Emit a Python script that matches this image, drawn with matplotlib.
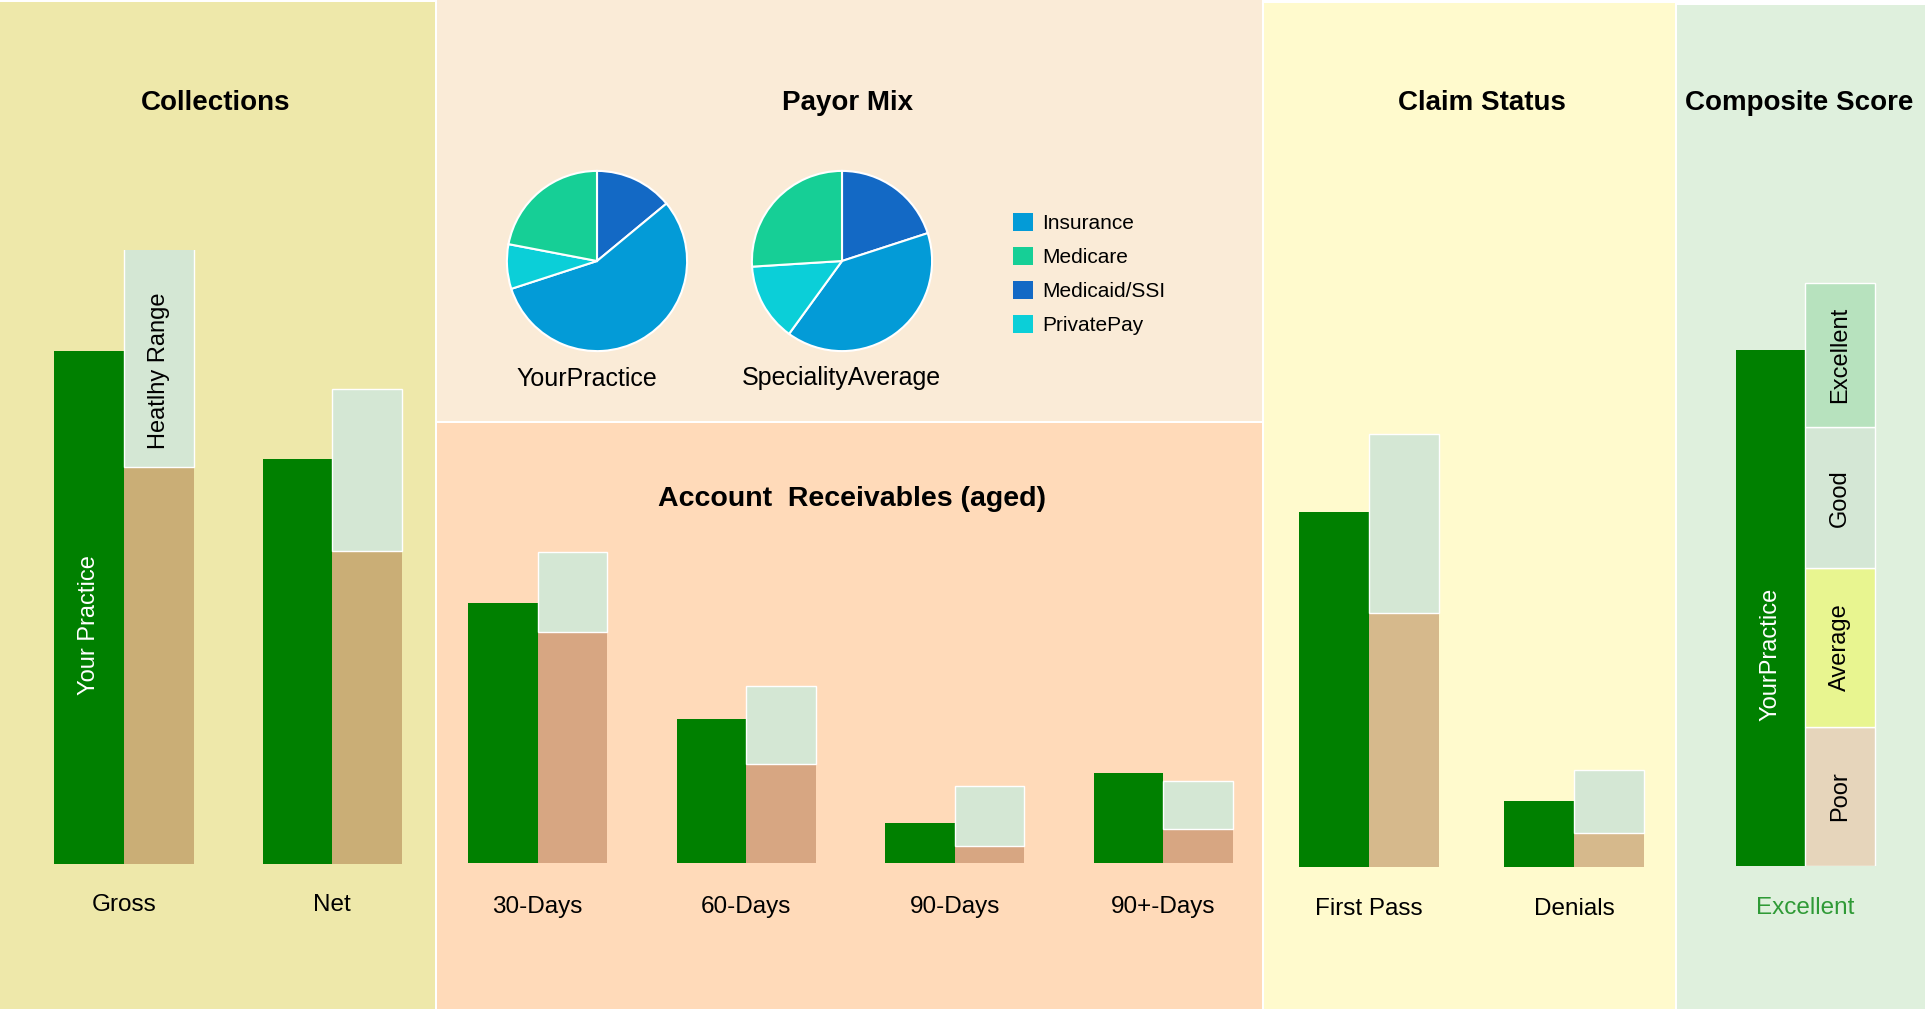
import matplotlib
matplotlib.use("Agg")
import matplotlib.pyplot as plt
from matplotlib.patches import Rectangle, Patch
import numpy as np

plt.rcParams['font.family'] = ['Liberation Sans', 'DejaVu Sans']

# ---------------- data ----------------
collections_categories = ['Gross', 'Net']
collections_practice = [83.5, 66.0]
collections_benchmark = [64.7, 51.0]
collections_range_top = [100.3, 77.4]

payor_labels = ['Insurance', 'Medicare', 'Medicaid/SSI', 'PrivatePay']
payor_your_practice = [56, 22, 14, 8]
payor_speciality_avg = [40, 26, 20, 14]
pie_titles = ['YourPractice', 'SpecialityAverage']

ar_categories = ['30-Days', '60-Days', '90-Days', '90+-Days']
ar_practice = [42.4, 23.4, 6.5, 14.6]
ar_benchmark = [37.6, 16.2, 2.7, 5.5]
ar_range_top = [50.6, 28.8, 12.5, 13.4]

claim_categories = ['First Pass', 'Denials']
claim_practice = [57.9, 10.8]
claim_benchmark = [41.4, 5.5]
claim_range_top = [70.5, 15.8]

composite_category = ['Excellent']
composite_practice = [84.0]
composite_levels = ['Poor', 'Average', 'Good', 'Excellent']
composite_level_sizes = [22.7, 25.8, 23.0, 23.4]

# ---------------- style ----------------
W, H = 1925, 1011
GREEN = '#008000'
LIGHT = '#d4e7d4'
pie_colors = ['#039bd7', '#16cf96', '#1369c5', '#0bcfd8']
level_colors = ['#e6d5bb', '#e8f590', '#d4e7d5', '#b7e2be']

fig = plt.figure(figsize=(W / 100, H / 100), dpi=100)
fig.patch.set_facecolor('white')


def px_rect(x0, y0, w, h):
    return [x0 / W, 1 - (y0 + h) / H, w / W, h / H]


def panel(x0, y0, x1, y1, color):
    r = Rectangle((x0 / W, 1 - y1 / H), (x1 - x0) / W, (y1 - y0) / H,
                  transform=fig.transFigure, facecolor=color, edgecolor='none',
                  zorder=-10)
    fig.add_artist(r)


panel(0, 2, 435, 1009, '#eee8aa')
panel(437, 0, 1262, 421, '#faebd7')
panel(437, 423, 1262, 1009, '#ffdab9')
panel(1264, 3, 1675, 1009, '#fffacd')
panel(1677, 5, 1925, 1009, '#dff0dd')

TITLE_FS = 20
fig.text(216 / W, 1 - 102.5 / H, 'Collections', ha='center', va='center',
         fontsize=TITLE_FS, fontweight='bold')
fig.text(847 / W, 1 - 102.5 / H, 'Payor Mix', ha='center', va='center',
         fontsize=TITLE_FS, fontweight='bold')
fig.text(852 / W, 1 - 499 / H, 'Account  Receivables (aged)', ha='center',
         va='center', fontsize=20.5, fontweight='bold')
fig.text(1482 / W, 1 - 102.5 / H, 'Claim Status', ha='center', va='center',
         fontsize=TITLE_FS, fontweight='bold')
fig.text(1799 / W, 1 - 103.5 / H, 'Composite Score', ha='center', va='center',
         fontsize=TITLE_FS, fontweight='bold')

UNIT = 6.139  # px per data unit
LABEL_FS = 17.5


def bar_axes(first_center, spacing, n, baseline, pad):
    left = first_center - spacing / 2
    top = baseline - 100 * UNIT
    ax = fig.add_axes(px_rect(left, top, spacing * n, 100 * UNIT))
    ax.set_xlim(-0.5, n - 0.5)
    ax.set_ylim(0, 100)
    ax.patch.set_alpha(0)
    for s in ax.spines.values():
        s.set_visible(False)
    ax.set_yticks([])
    ax.tick_params(axis='x', length=0, pad=pad, labelsize=LABEL_FS)
    return ax, 69.7 / spacing


def grouped(ax, bw, cats, practice, bench, top, tan):
    x = np.arange(len(cats))
    ax.bar(x - bw / 2, practice, bw, color=GREEN, linewidth=0)
    ax.bar(x + bw / 2, bench, bw, color=tan, linewidth=0)
    ax.bar(x + bw / 2, np.subtract(top, bench), bw, bottom=bench,
           color=LIGHT, edgecolor='white', linewidth=1)
    ax.set_xticks(x, cats)
    return x


# Collections
ax_c, bw = bar_axes(124, 208.3, 2, 864, 21.5)
xc = grouped(ax_c, bw, collections_categories, collections_practice,
             collections_benchmark, collections_range_top, '#caae76')
ax_c.text(xc[0] - bw / 2, 38.9, 'Your Practice', rotation=90, color='white',
          ha='center', va='center', fontsize=17)
ax_c.text(xc[0] + bw / 2, 80.3, 'Heatlhy Range', rotation=90, color='black',
          ha='center', va='center', fontsize=17)

# Account receivables
ax_ar, bw = bar_axes(537.7, 208.5, 4, 863, 24)
grouped(ax_ar, bw, ar_categories, ar_practice, ar_benchmark, ar_range_top,
        '#d7a682')

# Claim status
ax_cl, bw = bar_axes(1369, 205, 2, 867, 22)
grouped(ax_cl, bw, claim_categories, claim_practice, claim_benchmark,
        claim_range_top, '#d6b98c')

# Composite
ax_cs, bw = bar_axes(1805.4, 208, 1, 866, 22.5)
ax_cs.bar([-bw / 2], composite_practice, bw, color=GREEN, linewidth=0)
bottoms = np.concatenate([[0], np.cumsum(composite_level_sizes)[:-1]])
ax_cs.bar([bw / 2] * 4, composite_level_sizes, bw, bottom=bottoms,
          color=level_colors, edgecolor='white', linewidth=1)
for lvl, b, s in zip(composite_levels, bottoms, composite_level_sizes):
    ax_cs.text(bw / 2, b + s / 2, lvl, rotation=90, ha='center', va='center',
               fontsize=17, color='black')
ax_cs.text(-bw / 2, 34.4, 'YourPractice', rotation=90, ha='center',
           va='center', fontsize=17, color='white')
ax_cs.set_xticks([0], composite_category)
ax_cs.get_xticklabels()[0].set_color('#2f9a36')

# Payor mix pies
draw_order = [2, 0, 3, 1]  # clockwise from top
for (cx, cy), vals, ttl, (tx, ty) in zip(
        [(597, 261), (842, 261)],
        [payor_your_practice, payor_speciality_avg],
        pie_titles,
        [(587, 379), (841, 378)]):
    r = 91
    axp = fig.add_axes(px_rect(cx - r, cy - r, 2 * r, 2 * r))
    axp.pie([vals[i] for i in draw_order],
            colors=[pie_colors[i] for i in draw_order],
            startangle=90, counterclock=False,
            wedgeprops=dict(edgecolor='white', linewidth=1.5))
    axp.set_xlim(-1.01, 1.01)
    axp.set_ylim(-1.01, 1.01)
    fig.text(tx / W, 1 - ty / H, ttl, ha='center', va='center',
             fontsize=18)

handles = [Patch(facecolor=c, edgecolor='none') for c in pie_colors]
fig.legend(handles, payor_labels, loc='upper left',
           bbox_to_anchor=(1013 / W, 1 - 213 / H), frameon=False,
           fontsize=15, handlelength=0.96, handleheight=0.96,
           handletextpad=0.45, labelspacing=0.66, borderpad=0,
           borderaxespad=0)

fig.savefig('out.png', dpi=100)
